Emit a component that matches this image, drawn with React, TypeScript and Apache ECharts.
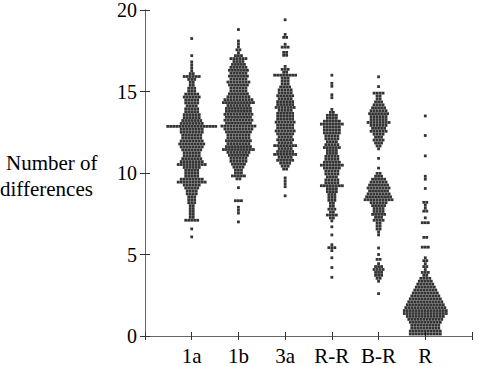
import React, { useEffect, useRef } from "react";
import * as echarts from "echarts";

const categories = ["1a", "1b", "3a", "R-R", "B-R", "R"];
const yTicks = [0, 5, 10, 15, 20];

// [value, number of dots in that row]
const rows1a: [number, number][] = [
  [18.25, 1], [17.2, 1], [16.82, 1], [16.64, 1], [16.46, 1], [16.28, 1], [16.1, 2], [15.92, 6], [15.74, 3],
  [15.56, 2], [15.38, 2], [15.2, 3], [15.02, 3], [14.84, 5], [14.66, 6], [14.48, 5], [14.3, 5], [14.12, 4],
  [13.94, 5], [13.76, 5], [13.58, 6], [13.4, 6], [13.22, 7], [13.04, 8], [12.86, 17], [12.68, 8], [12.5, 8],
  [12.32, 7], [12.14, 7], [11.96, 8], [11.78, 9], [11.6, 8], [11.42, 7], [11.24, 6], [11.06, 6], [10.88, 7],
  [10.7, 8], [10.52, 10], [10.34, 6], [10.16, 5], [9.98, 5], [9.8, 5], [9.62, 8], [9.44, 10], [9.26, 6],
  [9.08, 5], [8.9, 4], [8.72, 4], [8.54, 3], [8.36, 3], [8.18, 3], [8.0, 2], [7.82, 2], [7.64, 2], [7.46, 2],
  [7.28, 2], [7.1, 5], [6.57, 1], [6.08, 1],
];
const rows1b: [number, number][] = [
  [18.8, 1], [18.1, 1], [17.92, 1], [17.74, 1], [17.56, 2], [17.38, 1], [17.2, 3], [17.02, 6], [16.84, 4],
  [16.66, 5], [16.48, 6], [16.3, 7], [16.12, 6], [15.94, 7], [15.76, 6], [15.58, 8], [15.4, 7], [15.22, 6],
  [15.04, 6], [14.86, 7], [14.68, 8], [14.5, 10], [14.32, 11], [14.14, 8], [13.96, 9], [13.78, 9], [13.6, 10],
  [13.42, 9], [13.24, 10], [13.06, 9], [12.88, 12], [12.7, 10], [12.52, 9], [12.34, 8], [12.16, 8], [11.98, 9],
  [11.8, 8], [11.62, 9], [11.44, 11], [11.26, 8], [11.08, 7], [10.9, 6], [10.72, 6], [10.54, 5], [10.36, 4],
  [10.18, 3], [10.0, 3], [9.82, 5], [9.64, 2], [9.1, 1], [8.3, 3], [7.9, 1], [7.72, 1], [7.54, 1], [7.0, 1],
];
const rows3a: [number, number][] = [
  [19.4, 1], [18.5, 1], [18.32, 2], [17.9, 1], [17.72, 3], [17.4, 2], [17.22, 2], [16.54, 1], [16.36, 3],
  [16.18, 2], [16.0, 8], [15.82, 3], [15.64, 3], [15.46, 3], [15.28, 4], [15.1, 5], [14.92, 5], [14.74, 6],
  [14.56, 5], [14.38, 6], [14.2, 6], [14.02, 7], [13.84, 5], [13.66, 6], [13.48, 6], [13.3, 6], [13.12, 7],
  [12.94, 6], [12.76, 6], [12.58, 7], [12.4, 6], [12.22, 5], [12.04, 6], [11.86, 5], [11.68, 8], [11.5, 5],
  [11.32, 6], [11.14, 8], [10.96, 5], [10.78, 6], [10.6, 4], [10.42, 3], [10.24, 2], [9.7, 1], [9.52, 1],
  [9.34, 1], [9.16, 1], [8.6, 1],
];
const rowsRR: [number, number][] = [
  [16.0, 1], [15.5, 1], [15.32, 1], [14.8, 1], [14.62, 1], [13.9, 1], [13.72, 2], [13.54, 4], [13.36, 4],
  [13.18, 6], [13.0, 8], [12.82, 6], [12.64, 6], [12.46, 6], [12.28, 5], [12.1, 5], [11.92, 4], [11.74, 5],
  [11.56, 6], [11.38, 4], [11.2, 4], [11.02, 5], [10.84, 5], [10.66, 6], [10.48, 8], [10.3, 6], [10.12, 5],
  [9.94, 5], [9.76, 4], [9.58, 5], [9.4, 5], [9.22, 8], [9.04, 4], [8.86, 4], [8.68, 3], [8.5, 3], [8.32, 3],
  [8.14, 2], [7.96, 2], [7.78, 3], [7.6, 2], [7.42, 4], [7.24, 2], [7.06, 1], [6.7, 1], [6.2, 1], [5.6, 1],
  [5.42, 3], [5.24, 1], [4.8, 1], [4.2, 1], [3.6, 1],
];
const rowsBR: [number, number][] = [
  [15.9, 1], [15.3, 1], [14.9, 4], [14.72, 2], [14.54, 2], [14.36, 3], [14.18, 4], [14.0, 5], [13.82, 6],
  [13.64, 7], [13.46, 6], [13.28, 6], [13.1, 8], [12.92, 6], [12.74, 5], [12.56, 6], [12.38, 4], [12.2, 3],
  [12.02, 4], [11.84, 3], [11.66, 2], [11.48, 1], [10.9, 1], [10.3, 1], [9.98, 2], [9.8, 3], [9.62, 5],
  [9.44, 6], [9.26, 7], [9.08, 8], [8.9, 7], [8.72, 8], [8.54, 9], [8.36, 10], [8.18, 6], [8.0, 5], [7.82, 4],
  [7.64, 4], [7.46, 5], [7.28, 3], [7.1, 4], [6.92, 2], [6.74, 2], [6.56, 2], [6.38, 1], [6.2, 1], [5.4, 1],
  [5.0, 1], [4.7, 2], [4.44, 1], [4.26, 3], [4.08, 4], [3.9, 3], [3.72, 3], [3.54, 2], [3.36, 1], [2.6, 1],
];
const rowsR: [number, number][] = [
  [13.5, 1], [12.3, 1], [11.05, 1], [9.8, 1], [9.62, 1], [9.05, 1], [8.2, 2], [8.02, 1], [7.84, 1], [7.66, 2],
  [7.25, 1], [6.95, 3], [6.05, 2], [5.45, 3], [4.8, 1], [4.62, 2], [4.44, 1], [4.26, 2], [4.08, 1], [3.9, 3],
  [3.72, 2], [3.54, 4], [3.36, 5], [3.18, 6], [3.0, 7], [2.82, 8], [2.64, 9], [2.46, 10], [2.28, 11], [2.1, 12],
  [1.92, 13], [1.74, 14], [1.56, 15], [1.38, 15], [1.2, 13], [1.02, 12], [0.84, 11], [0.66, 10], [0.48, 10],
  [0.3, 11], [0.12, 11],
];

const allRows = [rows1a, rows1b, rows3a, rowsRR, rowsBR, rowsR];

const FONT = "'Liberation Serif', 'Times New Roman', serif";

export default function App() {
  const ref = useRef<HTMLDivElement>(null);
  useEffect(() => {
    if (!ref.current) return;
    const chart = echarts.init(ref.current, null, { renderer: "svg" });
    const dx = 0.0642; // horizontal dot spacing in axis units (beeswarm layout)
    const points: number[][] = [];
    allRows.forEach((rows, ci) => {
      rows.forEach(([v, n]) => {
        for (let k = 0; k < n; k++) {
          points.push([ci + 1 + (k - (n - 1) / 2) * dx, v]);
        }
      });
    });
    const axisLine = { show: true, lineStyle: { color: "#666", width: 1 } };
    const axisTick = { show: true, inside: true, length: 4, lineStyle: { color: "#333", width: 1 } };
    chart.setOption({
      animation: false,
      grid: { left: 145, right: 8, top: 6, bottom: 28 },
      xAxis: [
        {
          type: "value",
          min: 0,
          max: 7,
          interval: 1,
          position: "bottom",
          axisLine,
          axisTick,
          splitLine: { show: false },
          axisLabel: {
            formatter: (v: number) => categories[v - 1] ?? "",
            fontFamily: FONT,
            fontSize: 21,
            color: "#000",
            margin: 9,
          },
        },
        {
          type: "value",
          min: 0,
          max: 7,
          interval: 1,
          position: "top",
          axisLine,
          axisTick,
          splitLine: { show: false },
          axisLabel: { show: false },
        },
      ],
      yAxis: [
        {
          type: "value",
          min: yTicks[0],
          max: yTicks[yTicks.length - 1],
          interval: 5,
          position: "left",
          axisLine,
          axisTick: { ...axisTick, length: 5 },
          splitLine: { show: false },
          axisLabel: { fontFamily: FONT, fontSize: 20, color: "#000", margin: 8 },
        },
        {
          type: "value",
          min: yTicks[0],
          max: yTicks[yTicks.length - 1],
          interval: 5,
          position: "right",
          axisLine,
          axisTick: { ...axisTick, length: 5 },
          splitLine: { show: false },
          axisLabel: { show: false },
        },
      ],
      graphic: [
        {
          type: "text",
          left: 6,
          top: 152,
          style: { text: "Number of", fontFamily: FONT, fontSize: 21, fill: "#000" },
        },
        {
          type: "text",
          left: 0,
          top: 178,
          style: { text: "differences", fontFamily: FONT, fontSize: 21, fill: "#000" },
        },
      ],
      series: [
        {
          type: "scatter",
          data: points,
          symbol: "rect",
          symbolSize: 2.8,
          itemStyle: { color: "#000" },
          silent: true,
        },
      ],
    });
    return () => chart.dispose();
  }, []);
  return <div ref={ref} style={{ width: 480, height: 366, position: "absolute", left: 0, top: 0 }} />;
}
